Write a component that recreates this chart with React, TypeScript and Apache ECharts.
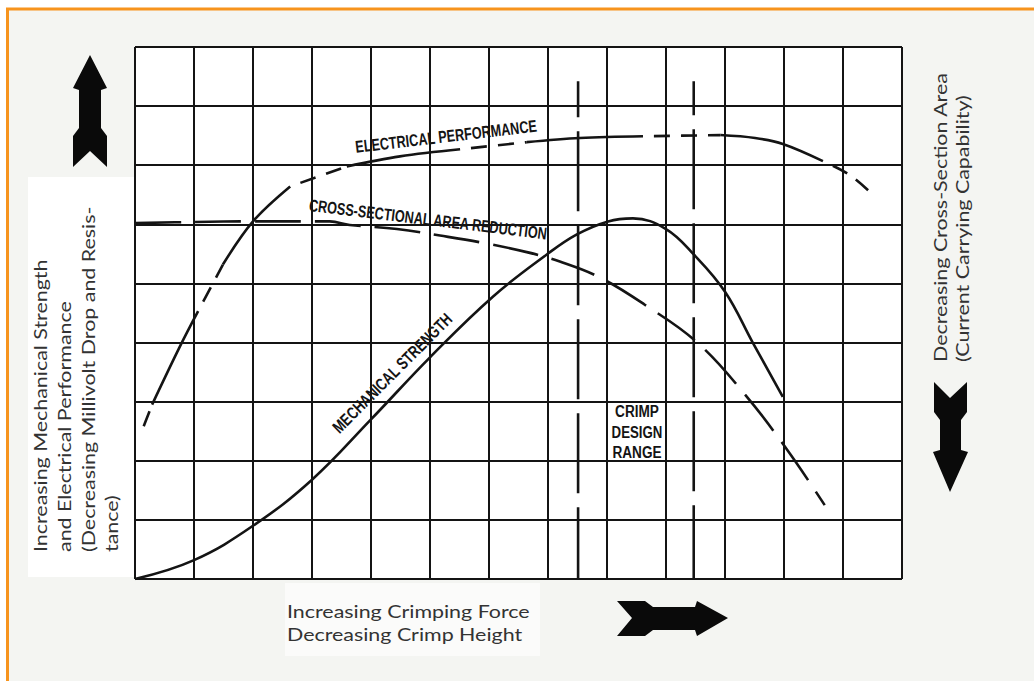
import React, { useEffect, useRef } from "react";
import * as echarts from "echarts";

// Grid: 13 columns x 9 rows (unitless)
const xMax = 13;
const yMax = 9;

// Mechanical strength (solid)
const mechanicalX = [0, 1, 2, 3, 4, 5, 6.07, 6.98, 7.49, 8.02, 8.44, 9.0, 9.47, 10.0, 10.47, 10.98];
const mechanicalY = [0, 0.32, 0.9, 1.68, 2.7, 3.75, 4.78, 5.49, 5.83, 6.05, 6.1, 5.92, 5.49, 4.86, 4.0, 3.08];

// Cross-sectional area reduction (dashed)
const crossX = [0, 1, 2, 3.3, 3.64, 4.44, 5.17, 5.88, 6.64, 7.2, 7.88, 8.64, 9.53, 10.34, 11.05, 11.69];
const crossY = [6.02, 6.04, 6.05, 6.05, 5.99, 5.92, 5.81, 5.69, 5.53, 5.37, 5.1, 4.64, 4.0, 3.12, 2.19, 1.25];

// Electrical performance (mixed solid / dashed)
const electricalX = [0.08, 0.29, 0.76, 1.07, 1.49, 2.0, 2.63, 3.59, 4.49, 5.51, 6.64, 7.54, 8.61, 9.92, 10.51, 10.98, 11.66, 12.12, 12.54];
const electricalY = [2.41, 2.95, 3.93, 4.53, 5.32, 6.05, 6.64, 6.98, 7.15, 7.27, 7.39, 7.46, 7.49, 7.51, 7.46, 7.36, 7.07, 6.83, 6.47];
// [startIndex, endIndex, dashed?]
const electricalSegments: [number, number, boolean][] = [
  [0, 1, true], [1, 3, false], [3, 4, true], [4, 6, false], [6, 7, true],
  [7, 9, false], [9, 10, true], [10, 12, false], [12, 13, true], [13, 16, false], [16, 18, true],
];

// Crimp design range boundaries
const crimpX = [7.51, 9.47];
const crimpTop = 8.42;
const crimpOffsets = [44, 46];

const titleFont = 'Lato, "Open Sans", sans-serif';
const labelFont = '"Liberation Sans", Arial, sans-serif';

export default function App() {
  const ref = useRef<HTMLDivElement>(null);
  useEffect(() => {
    if (!ref.current) return;
    const chart = echarts.init(ref.current, null, { renderer: "svg" });
    const ink = "#141414";
    const pts = (xs: number[], ys: number[]) => xs.map((x, i) => [x, ys[i]]);
    const elec = pts(electricalX, electricalY);

    const series: any[] = [
      {
        type: "line", name: "Mechanical Strength", data: pts(mechanicalX, mechanicalY),
        smooth: 0.4, symbol: "none", lineStyle: { color: ink, width: 2.6 }, z: 5,
      },
      {
        type: "line", name: "Cross-Sectional Area Reduction", data: pts(crossX, crossY),
        smooth: 0.4, symbol: "none", lineStyle: { color: ink, width: 2.6, type: [46, 14] }, z: 5,
      },
    ];
    electricalSegments.forEach(([s, e, dashed]) => {
      series.push({
        type: "line", name: "Electrical Performance", data: elec.slice(s, e + 1),
        smooth: 0.35, symbol: "none", z: 5,
        lineStyle: dashed
          ? { color: ink, width: 2.6, type: [16, 11], dashOffset: 16 }
          : { color: ink, width: 2.6 },
      });
    });
    crimpX.forEach((x, i) => {
      series.push({
        type: "line", name: "Crimp Design Range", data: [[x, crimpTop], [x, 0]],
        symbol: "none", z: 4,
        lineStyle: { color: ink, width: 2.6, type: [80, 14], dashOffset: crimpOffsets[i] },
      });
    });

    const boldLabel = (text: string, x: number, y: number, rotation: number, sx = 0.745) => ({
      type: "text", x, y, rotation, scaleX: sx, z: 20,
      style: {
        text, fill: ink, font: `bold 17px ${labelFont}`,
        textAlign: "center", textVerticalAlign: "middle",
      },
    });
    const title = (text: string, x: number, y: number, rot = 0) => ({
      type: "text", x, y, rotation: rot, scaleX: 1.19, z: 20,
      style: {
        text, fill: "#333333", font: `18px ${titleFont}`,
        textAlign: "left", textVerticalAlign: "middle",
      },
    });
    const arrow = (points: number[][]) => ({
      type: "polygon", z: 20, shape: { points }, style: { fill: "#0a0a0a" },
    });

    chart.setOption({
      animation: false,
      backgroundColor: "#ffffff",
      grid: {
        left: 135, top: 47, width: 767, height: 532,
        show: true, backgroundColor: "#ffffff", borderWidth: 0,
      },
      xAxis: {
        type: "value", min: 0, max: xMax, interval: 1,
        axisLine: { show: false }, axisTick: { show: false }, axisLabel: { show: false },
        splitLine: { show: true, showMinLine: true, showMaxLine: true, lineStyle: { color: ink, width: 2 } },
      },
      yAxis: {
        type: "value", min: 0, max: yMax, interval: 1,
        axisLine: { show: false }, axisTick: { show: false }, axisLabel: { show: false },
        splitLine: { show: true, showMinLine: true, showMaxLine: true, lineStyle: { color: ink, width: 2 } },
      },
      series,
      graphic: [
        { type: "rect", z: -100, shape: { x: 7, y: 8, width: 1027, height: 673 }, style: { fill: "#f4f5f2" } },
        { type: "rect", z: -90, shape: { x: 28, y: 177, width: 107, height: 400 }, style: { fill: "#ffffff" } },
        { type: "rect", z: -90, shape: { x: 285, y: 583, width: 255, height: 73 }, style: { fill: "#fbfbfa" } },
        {
          type: "polyline", z: 30,
          shape: { points: [[7.5, 681], [7.5, 9], [1034, 9]] },
          style: { stroke: "#f7941d", lineWidth: 3, fill: "none" },
        },
        // curve labels
        boldLabel("ELECTRICAL PERFORMANCE", 446, 136, 0.117),
        boldLabel("CROSS-SECTIONAL AREA REDUCTION", 428, 219, -0.12),
        boldLabel("MECHANICAL STRENGTH", 392, 373, Math.PI / 4, 0.76),
        boldLabel("CRIMP", 637, 411, 0, 0.8),
        boldLabel("DESIGN", 637, 432, 0, 0.78),
        boldLabel("RANGE", 637, 452, 0, 0.8),
        // axis titles
        title("Increasing Mechanical Strength", 40, 552, Math.PI / 2),
        title("and Electrical Performance", 64, 552, Math.PI / 2),
        title("(Decreasing Millivolt Drop and Resis-", 88, 552, Math.PI / 2),
        title("tance)", 111, 552, Math.PI / 2),
        title("Increasing Crimping Force", 287, 611),
        title("Decreasing Crimp Height", 287, 634),
        title("Decreasing Cross-Section Area", 940, 362, Math.PI / 2),
        title("(Current Carrying Capability)", 962, 362, Math.PI / 2),
        // arrows
        arrow([[90, 55], [107, 88], [101, 90], [101, 128], [107, 136], [107, 167], [90, 151], [73, 167], [73, 136], [79, 128], [79, 90], [73, 88]]),
        arrow([[934, 382], [950, 398], [967, 382], [967, 412], [961, 420], [961, 450], [968, 452], [950, 492], [933, 452], [940, 450], [940, 420], [934, 412]]),
        arrow([[617, 601], [645, 601], [653, 607], [695, 607], [697, 601], [728, 618], [697, 636], [695, 630], [653, 630], [645, 636], [617, 636], [632, 618]]),
      ],
    });
    return () => chart.dispose();
  }, []);
  return <div ref={ref} style={{ position: "fixed", left: 0, top: 0, width: 1034, height: 681 }} />;
}
